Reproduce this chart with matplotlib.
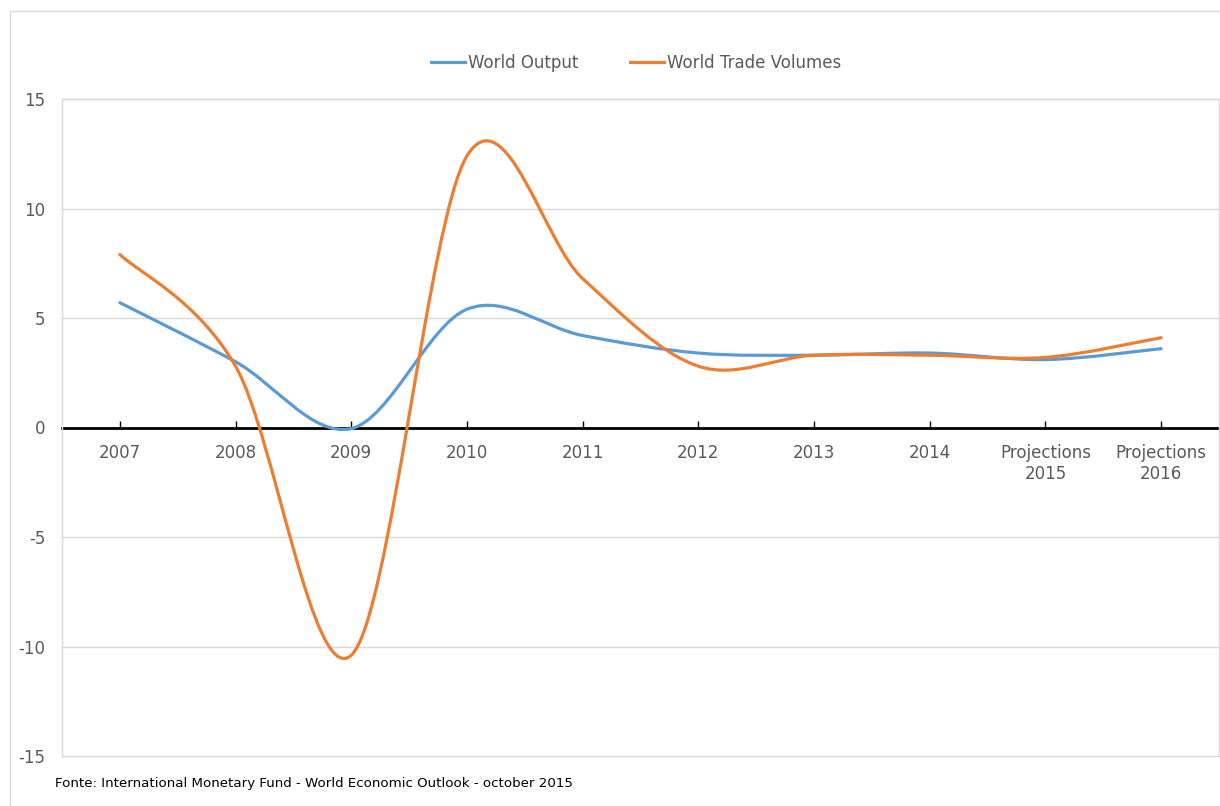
import numpy as np
import matplotlib.pyplot as plt
from matplotlib.patches import Rectangle
from matplotlib.path import Path
from matplotlib.patches import PathPatch

categories = ["2007", "2008", "2009", "2010", "2011", "2012", "2013", "2014",
              "Projections\n2015", "Projections\n2016"]
world_output = [5.7, 3.0, -0.05, 5.4, 4.2, 3.4, 3.3, 3.4, 3.1, 3.6]
world_trade = [7.9, 2.8, -10.4, 12.4, 6.8, 2.8, 3.3, 3.3, 3.2, 4.1]
y_ticks = [-15, -10, -5, 0, 5, 10, 15]

BLUE = "#5B9BD5"
ORANGE = "#ED7D31"
GRAY_TXT = "#595959"
plt.rcParams['font.family'] = ['DejaVu Sans']


def smooth_path(xs, ys):
    """Cubic Bezier path through the points (Catmull-Rom style smoothing)."""
    pts = np.column_stack([xs, ys]).astype(float)
    n = len(pts)
    verts = [pts[0]]
    codes = [Path.MOVETO]
    for i in range(n - 1):
        p0 = pts[i - 1] if i > 0 else pts[i]
        p1 = pts[i]
        p2 = pts[i + 1]
        p3 = pts[i + 2] if i + 2 < n else pts[i + 1]
        c1 = p1 + (p2 - p0) / 6.0
        c2 = p2 - (p3 - p1) / 6.0
        verts += [c1, c2, p2]
        codes += [Path.CURVE4] * 3
    return Path(verts, codes)


fig = plt.figure(figsize=(12.2, 8.06), dpi=100)
W, H = 1220, 806

# outer chart frame
fig.patches.append(Rectangle((10 / W, -0.05), 1.2, (806 - 11) / H + 0.05,
                             transform=fig.transFigure, fill=False,
                             edgecolor="#D9D9D9", linewidth=1.0))

ax = fig.add_axes([62 / W, (806 - 756) / H, (1219 - 62) / W, (756 - 99) / H])
x = np.arange(len(categories))

ax.set_xlim(-0.5, len(categories) - 0.5)
ax.set_ylim(-15, 15)
ax.set_yticks(y_ticks)
ax.set_yticklabels([str(v) for v in y_ticks])
for v in y_ticks:
    ax.axhline(v, color="#D9D9D9", linewidth=1.0, zorder=0, clip_on=False)

for s in ["left", "right", "top"]:
    ax.spines[s].set_color("#D9D9D9")
    ax.spines[s].set_linewidth(1.0)
ax.spines["bottom"].set_position(("data", 0))
ax.spines["bottom"].set_color("black")
ax.spines["bottom"].set_linewidth(2.0)
ax.spines["bottom"].set_zorder(1)

ax.set_xticks(x)
ax.set_xticklabels(categories)
ax.tick_params(axis="x", direction="in", length=5, width=1, color="black",
               pad=12, labelsize=12, labelcolor=GRAY_TXT)
ax.tick_params(axis="y", length=0, pad=12, labelsize=12, labelcolor=GRAY_TXT)

for ys, col, lab in [(world_output, BLUE, "World Output"),
                     (world_trade, ORANGE, "World Trade Volumes")]:
    p = smooth_path(x, ys)
    ax.add_patch(PathPatch(p, facecolor="none", edgecolor=col,
                           linewidth=2.3, capstyle="round", zorder=3))
    ax.plot([], [], color=col, linewidth=2.3, label=lab)

leg = fig.legend(loc="center", bbox_to_anchor=(636 / W, 1 - 63 / H), ncol=2,
                 frameon=False, fontsize=12, handlelength=2.05,
                 handletextpad=0.15, columnspacing=3.1)
for t in leg.get_texts():
    t.set_color(GRAY_TXT)

fig.text(55 / W, 1 - 783 / H, "Fonte: International Monetary Fund - World Economic Outlook - october 2015",
         fontsize=9.6, color="black", va="center", ha="left")

fig.savefig("out.png", dpi=100)
